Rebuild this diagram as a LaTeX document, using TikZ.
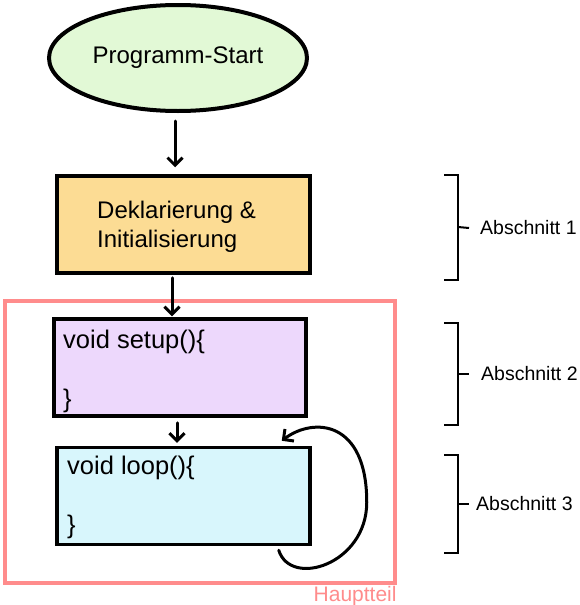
\documentclass[tikz,border=0pt]{standalone}
\usepackage{fontspec}
\setmainfont{Liberation Sans}
\usetikzlibrary{arrows.meta,shapes.geometric}

\definecolor{startgreen}{RGB}{226,249,214}
\definecolor{declorange}{RGB}{252,220,148}
\definecolor{setuppurple}{RGB}{237,216,252}
\definecolor{loopcyan}{RGB}{216,246,252}
\definecolor{mainpink}{RGB}{255,140,140}

\tikzset{
  blockbox/.style={draw=black, line width=3.5pt, rectangle,
    minimum width=253pt, minimum height=97pt, inner sep=0pt},
  flowarrow/.style={draw=black, line width=3pt, line cap=round,
    -{Straight Barb[length=7.5pt,width=15pt,line width=3pt]}},
  codetext/.style={font=\fontsize{25.5}{30}\selectfont, anchor=base west, inner sep=0pt},
  sectiontext/.style={font=\fontsize{19.5}{23}\selectfont, anchor=west, inner sep=0pt},
  bracket/.style={draw=black, line width=2pt},
}

\begin{document}
\begin{tikzpicture}[x=1pt,y=-1pt]
\useasboundingbox (0,0) rectangle (580,605);

% main part frame
\node[draw=mainpink, line width=3.5pt, rectangle, minimum width=390pt,
  minimum height=282pt, inner sep=0pt] (haupt) at (200,442) {};
\node[anchor=north east, inner sep=0pt, text=mainpink,
  font=\fontsize{21}{25}\selectfont] (hauptlbl) at ([yshift=-1.5pt]haupt.south east) {Hauptteil};

% start
\node[ellipse, draw=black, line width=4pt, fill=startgreen,
  minimum width=258pt, minimum height=106pt, inner sep=0pt,
  font=\fontsize{24}{28}\selectfont] (start) at (178,58) {Programm-Start};

% declarations
\node[blockbox, fill=declorange] (decl) at (183.5,224.5) {};
\node[anchor=base west, inner sep=0pt, align=left,
  font=\fontsize{24}{29}\selectfont] (decltext) at (97,247)
  {Deklarierung \&\\Initialisierung};

% setup block
\node[blockbox, fill=setuppurple, minimum width=252pt] (setup) at (180,367.5) {};
\node[codetext] (setupopen) at (63,348) {void setup()\{};
\node[codetext] (setupclose) at (63,407) {\}};

% loop block
\node[blockbox, fill=loopcyan] (loop) at (183.5,496) {};
\node[codetext] (loopopen) at (67,474) {void loop()\{};
\node[codetext] (loopclose) at (67,533) {\}};

% flow arrows
\draw[flowarrow] (start.south) ++(-3,8) -- ([xshift=-8.5pt,yshift=7pt]decl.north);
\draw[flowarrow] ([xshift=-11.5pt,yshift=-3pt]decl.south) -- ([xshift=-8pt,yshift=1pt]setup.north);
\draw[flowarrow] ([xshift=-3pt,yshift=-5pt]setup.south) -- ([xshift=-6.5pt,yshift=3pt]loop.north);
\draw[flowarrow] (loop.south east) ++(-33,4)
  .. controls +(12,38) and +(0,62) .. ++(88,-48)
  .. controls +(0,-82) and +(32,-24) .. ([xshift=-30pt,yshift=5pt]loop.north east);

% section brackets
\node[sectiontext] (sec1) at (480,228) {Abschnitt 1};
\node[sectiontext] (sec2) at (481,374) {Abschnitt 2};
\node[sectiontext] (sec3) at (476,504) {Abschnitt 3};

\draw[bracket] (444,175) -- (458,175) -- (458,280) -- (444,280);
\draw[bracket] (458,227) -- ([xshift=-11pt]sec1.west);
\draw[bracket] (444,323) -- (458,323) -- (458,425) -- (444,425);
\draw[bracket] (458,374) -- ([xshift=-12pt]sec2.west);
\draw[bracket] (444,455) -- (458,455) -- (458,553) -- (444,553);
\draw[bracket] (458,504) -- ([xshift=-7pt]sec3.west);
\end{tikzpicture}
\end{document}
